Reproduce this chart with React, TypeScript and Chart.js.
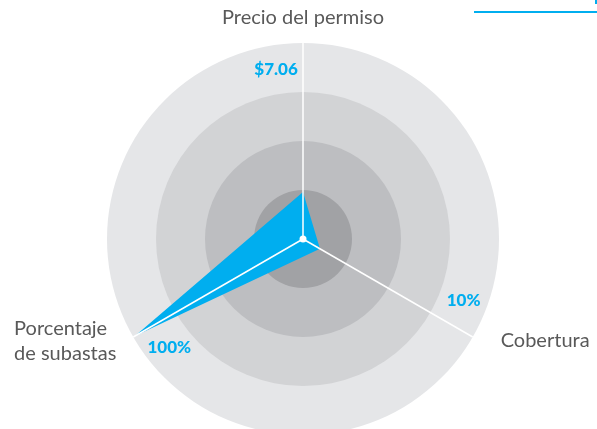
import React, { useEffect, useRef } from "react";
import { Chart, registerables } from "chart.js";

Chart.register(...registerables);

const categories: (string | string[])[] = ["Precio del permiso", "Cobertura", ["Porcentaje", "de subastas"]];
const seriesValues = [0.24, 0.1, 0.99];
const valueLabels = ["$7.06", "10%", "100%"];
const ringValues = [1, 0.75, 0.5, 0.25];
const ringColors = ["#e5e6e8", "#d2d3d5", "#bdbec1", "#a1a2a5"];

const CYAN = "#00aeef";
const TEXT = "#595959";
const FONT = "Lato, 'Noto Sans', sans-serif";

const decorPlugin = {
  id: "decor",
  beforeDraw(chart: any) {
    const s = chart.scales.r;
    const ctx = chart.ctx;
    ctx.save();
    ringValues.forEach((v, i) => {
      const r = s.getDistanceFromCenterForValue(v);
      ctx.beginPath();
      ctx.arc(s.xCenter, s.yCenter, r, 0, Math.PI * 2);
      ctx.fillStyle = ringColors[i];
      ctx.fill();
    });
    ctx.restore();
  },
  afterDraw(chart: any) {
    const s = chart.scales.r;
    const ctx = chart.ctx;
    ctx.save();
    // center dot
    ctx.beginPath();
    ctx.arc(s.xCenter, s.yCenter, 3.5, 0, Math.PI * 2);
    ctx.fillStyle = "#ffffff";
    ctx.fill();

    // value labels
    ctx.font = `900 17px ${FONT}`;
    ctx.fillStyle = CYAN;
    ctx.textAlign = "center";
    ctx.textBaseline = "middle";
    const outer = s.getDistanceFromCenterForValue(1);
    valueLabels.forEach((t, i) => {
      const a = s.getIndexAngle(i) - Math.PI / 2 - (9 * Math.PI) / 180;
      const d = outer - 24;
      ctx.fillText(t, s.xCenter + Math.cos(a) * d, s.yCenter + Math.sin(a) * d);
    });

    // point labels
    ctx.font = `20px ${FONT}`;
    ctx.fillStyle = TEXT;
    const labels = chart.data.labels as (string | string[])[];
    labels.forEach((lab, i) => {
      const lines = Array.isArray(lab) ? lab : [lab];
      const angle = s.getIndexAngle(i);
      const lh = 25;
      if (Math.abs(Math.sin(angle)) < 0.01) {
        const p = s.getPointPosition(i, outer + 25);
        ctx.textAlign = "center";
        ctx.textBaseline = "middle";
        ctx.fillText(lines[0], p.x, p.y);
      } else {
        const p = s.getPointPosition(i, outer + 8);
        const right = Math.sin(angle) > 0;
        const widths = lines.map((l) => ctx.measureText(l).width);
        const bw = Math.max(...widths);
        const left = right ? p.x + 21 : p.x - 10 - bw;
        ctx.textAlign = "left";
        ctx.textBaseline = "middle";
        const y0 = p.y - ((lines.length - 1) * lh) / 2;
        lines.forEach((l, k) => ctx.fillText(l, left, y0 + k * lh));
      }
    });
    ctx.restore();
  },
};

export default function App() {
  const ref = useRef<HTMLCanvasElement>(null);
  useEffect(() => {
    if (!ref.current) return;
    const chart = new Chart(ref.current, {
      type: "radar",
      data: {
        labels: categories,
        datasets: [
          {
            data: seriesValues,
            backgroundColor: CYAN,
            borderColor: CYAN,
            borderWidth: 0,
            pointRadius: 0,
            fill: true,
          },
        ],
      },
      options: {
        animation: false,
        responsive: false,
        layout: { padding: { left: 107, right: 98, top: 43, bottom: 25 } },
        plugins: { legend: { display: false }, tooltip: { enabled: false } },
        scales: {
          r: {
            min: 0,
            max: 1,
            ticks: { display: false, stepSize: 0.25 },
            grid: { display: false, z: 1 },
            angleLines: { display: true, color: "#ffffff", lineWidth: 1.5 },
            pointLabels: { display: false },
          },
        },
      },
      plugins: [decorPlugin],
    } as any);
    return () => chart.destroy();
  }, []);
  return (
    <div style={{ position: "fixed", left: 0, top: 0, width: 597, height: 460, background: "#fff" }}>
      <canvas ref={ref} width={597} height={460} />
      <div style={{ position: "absolute", left: 474, top: 11, width: 123, height: 2, background: CYAN }} />
      <div style={{ position: "absolute", left: 595, top: 0, width: 2, height: 4, background: CYAN }} />
    </div>
  );
}
